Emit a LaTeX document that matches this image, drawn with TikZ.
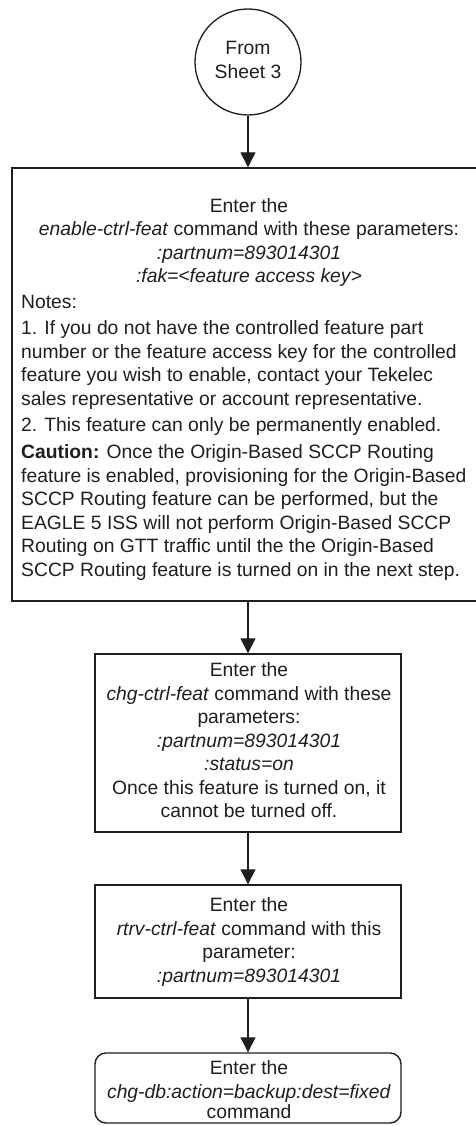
\documentclass[tikz,border=0pt]{standalone}
\usepackage{fontspec}
\setmainfont{Liberation Sans}
\usetikzlibrary{arrows.meta}
\definecolor{ink}{HTML}{1E1E1E}
\begin{document}
\begin{tikzpicture}[x=1pt,y=-1pt,
  txt/.style={inner sep=0pt,text=ink,font=\fontsize{19.3}{23.5}\selectfont},
  ctxt/.style={txt,anchor=base},
  ltxt/.style={txt,anchor=base west},
  boxline/.style={draw=ink,line width=1.4pt,inner sep=0pt},
  flow/.style={draw=ink,line width=1.3pt,-{Triangle[width=15pt,length=15pt]}}]
\useasboundingbox (0,0) rectangle (476,1126);
% start connector
\node[circle,draw=ink,line width=1.3pt,minimum size=106pt,inner sep=0pt] (start) at (248,62) {};
\node[ctxt] (s1) at (248,55) {From};
\node[ctxt] (s2) at (248,79) {Sheet 3};
% boxes
\node[boxline,minimum width=472pt,minimum height=433pt] (b1) at (248,384.5) {};
\node[boxline,minimum width=306pt,minimum height=178pt] (b2) at (248,743) {};
\node[boxline,minimum width=306pt,minimum height=113pt] (b3) at (248,941.5) {};
\node[boxline,rounded corners=11pt,minimum width=306pt,minimum height=70pt] (b4) at (248,1088) {};
% connectors
\draw[flow] (start.south) -- (b1.north);
\draw[flow] (b1.south) -- (b2.north);
\draw[flow] (b2.south) -- (b3.north);
\draw[flow] (b3.south) -- (b4.north);
% box 1 text
\node[ctxt] (a1) at (249,212) {Enter the};
\node[ctxt] (a2) at (249,235.5) {\textit{enable-ctrl-feat} command with these parameters:};
\node[ctxt] (a3) at (249,259) {\textit{:partnum=893014301}};
\node[ctxt] (a4) at (249,282.5) {\textit{:fak=<feature access key>}};
\node[ltxt] (n0) at (21,308.5) {Notes:};
\node[ltxt] (n1) at (21,334.5) {1. If you do not have the controlled feature part};
\node[ltxt] (n2) at (21,358) {number or the feature access key for the controlled};
\node[ltxt] (n3) at (21,381.5) {feature you wish to enable, contact your Tekelec};
\node[ltxt] (n4) at (21,405) {sales representative or account representative.};
\node[ltxt] (n5) at (21,431.5) {2. This feature can only be permanently enabled.};
\node[ltxt] (c1) at (21,458.5) {\textbf{Caution:} Once the Origin-Based SCCP Routing};
\node[ltxt] (c2) at (21,482) {feature is enabled, provisioning for the Origin-Based};
\node[ltxt] (c3) at (21,505.5) {SCCP Routing feature can be performed, but the};
\node[ltxt] (c4) at (21,529) {EAGLE 5 ISS will not perform Origin-Based SCCP};
\node[ltxt] (c5) at (21,552.5) {Routing on GTT traffic until the the Origin-Based};
\node[ltxt] (c6) at (21,576) {SCCP Routing feature is turned on in the next step.};
% box 2 text
\node[ctxt] (d1) at (249,676.5) {Enter the};
\node[ctxt] (d2) at (249,700) {\textit{chg-ctrl-feat} command with these};
\node[ctxt] (d3) at (249,723.5) {parameters:};
\node[ctxt] (d4) at (249,747) {\textit{:partnum=893014301}};
\node[ctxt] (d5) at (249,770.5) {\textit{:status=on}};
\node[ctxt] (d6) at (249,794) {Once this feature is turned on, it};
\node[ctxt] (d7) at (249,817.5) {cannot be turned off.};
% box 3 text
\node[ctxt] (e1) at (249,911.5) {Enter the};
\node[ctxt] (e2) at (249,935) {\textit{rtrv-ctrl-feat} command with this};
\node[ctxt] (e3) at (249,958.5) {parameter:};
\node[ctxt] (e4) at (249,982) {\textit{:partnum=893014301}};
% box 4 text
\node[ctxt] (f1) at (249,1074.5) {Enter the};
\node[ctxt] (f2) at (249,1098) {\textit{chg-db:action=backup:dest=fixed}};
\node[ctxt] (f3) at (249,1118) {command};
\end{tikzpicture}
\end{document}
